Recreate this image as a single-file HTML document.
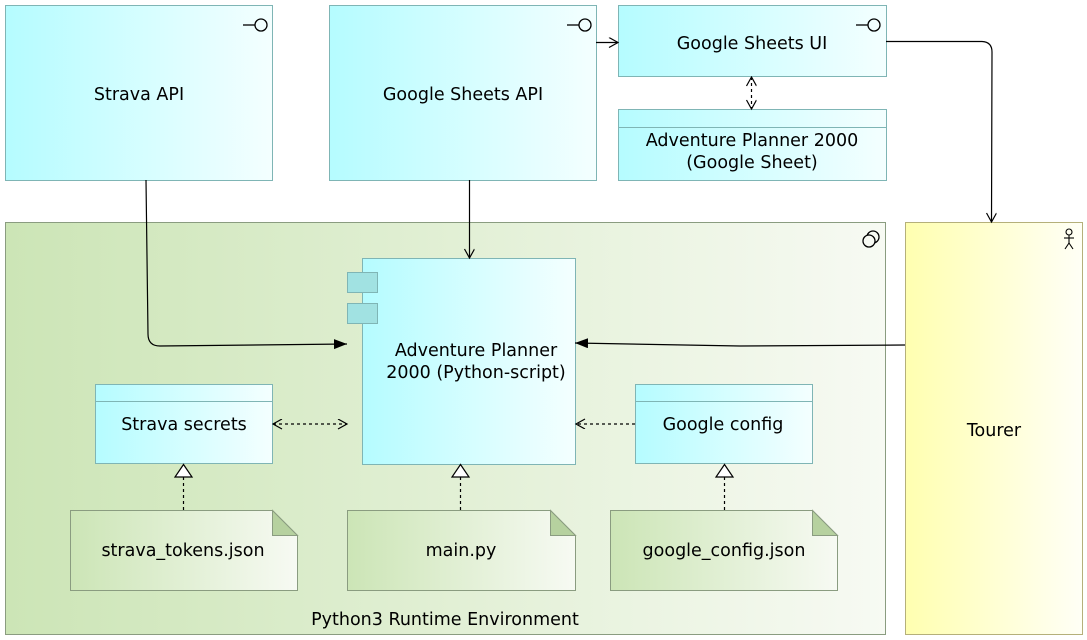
<!DOCTYPE html>
<html><head><meta charset="utf-8"><style>
html,body{margin:0;padding:0;background:#fff;}
svg{display:block;}
text{font-family:"DejaVu Sans","Liberation Sans",sans-serif;font-size:17.5px;fill:#000;}
</style></head><body>
<svg width="1087" height="640" viewBox="0 0 1087 640" xmlns="http://www.w3.org/2000/svg">
<defs>
<linearGradient id="cy" x1="0" x2="1" y1="0" y2="0"><stop offset="0" stop-color="#b5fcff"/><stop offset="1" stop-color="#f4ffff"/></linearGradient>
<linearGradient id="gr" x1="0" x2="1" y1="0" y2="0"><stop offset="0" stop-color="#cce5b6"/><stop offset="1" stop-color="#f7faf3"/></linearGradient>
<linearGradient id="ye" x1="0" x2="1" y1="0" y2="0"><stop offset="0" stop-color="#ffffb0"/><stop offset="1" stop-color="#fffff6"/></linearGradient>
<marker id="open" markerWidth="12" markerHeight="12" refX="10" refY="5" orient="auto" markerUnits="userSpaceOnUse"><path d="M1,0 L10,5 L1,10" fill="none" stroke="#000" stroke-width="1.2"/></marker>
<marker id="openS" markerWidth="12" markerHeight="12" refX="1" refY="5" orient="auto" markerUnits="userSpaceOnUse"><path d="M10,0 L1,5 L10,10" fill="none" stroke="#000" stroke-width="1.2"/></marker>
<marker id="fill" markerWidth="14" markerHeight="12" refX="13" refY="5" orient="auto" markerUnits="userSpaceOnUse"><path d="M0,0 L13,5 L0,10 Z" fill="#000"/></marker>
</defs>

<rect x="5.5" y="5.5" width="267" height="175" fill="url(#cy)" stroke="#7fb5b5"/>
<text x="139" y="100" text-anchor="middle">Strava API</text>
<rect x="329.5" y="5.5" width="267" height="175" fill="url(#cy)" stroke="#7fb5b5"/>
<text x="463" y="100" text-anchor="middle">Google Sheets API</text>
<rect x="618.5" y="5.5" width="268" height="71" fill="url(#cy)" stroke="#7fb5b5"/>
<text x="752" y="49" text-anchor="middle">Google Sheets UI</text>
<rect x="618.5" y="109.5" width="268" height="71" fill="url(#cy)" stroke="#7fb5b5"/>
<line x1="618.5" y1="127.5" x2="886.5" y2="127.5" stroke="#7fb5b5"/>
<text x="752" y="146" text-anchor="middle">Adventure Planner 2000</text>
<text x="752" y="168" text-anchor="middle">(Google Sheet)</text>
<g fill="none" stroke="#000" stroke-width="1.3">
<line x1="243" y1="25" x2="255" y2="25"/><circle cx="261" cy="25" r="6"/>
<line x1="567" y1="25" x2="579" y2="25"/><circle cx="585" cy="25" r="6"/>
<line x1="856" y1="25" x2="868" y2="25"/><circle cx="874" cy="25" r="6"/>
</g>

<rect x="5.5" y="222.5" width="880" height="412" fill="url(#gr)" stroke="#8a9c80"/>
<g fill="none" stroke="#000" stroke-width="1.3"><circle cx="873" cy="237" r="6"/><circle cx="869" cy="241" r="6" fill="#f7faf3"/></g>
<text x="445" y="625" text-anchor="middle">Python3 Runtime Environment</text>

<rect x="905.5" y="222.5" width="177" height="412" fill="url(#ye)" stroke="#b5b07a"/>
<text x="994" y="436" text-anchor="middle">Tourer</text>
<g fill="none" stroke="#000" stroke-width="1.1"><circle cx="1069" cy="232" r="3"/><line x1="1069" y1="235" x2="1069" y2="243"/><line x1="1064" y1="238" x2="1074" y2="238"/><line x1="1069" y1="243" x2="1065" y2="249"/><line x1="1069" y1="243" x2="1073" y2="249"/></g>

<rect x="362.5" y="258.5" width="213" height="206" fill="url(#cy)" stroke="#7fb5b5"/>
<rect x="347.5" y="272.5" width="30" height="20" fill="#a1e2e2" stroke="#7fb5b5"/>
<rect x="347.5" y="303.5" width="30" height="20" fill="#a1e2e2" stroke="#7fb5b5"/>
<text x="476" y="356" text-anchor="middle">Adventure Planner</text>
<text x="476" y="378" text-anchor="middle">2000 (Python-script)</text>

<rect x="95.5" y="384.5" width="177" height="79" fill="url(#cy)" stroke="#7fb5b5"/>
<line x1="95.5" y1="401.5" x2="272.5" y2="401.5" stroke="#7fb5b5"/>
<text x="184" y="430" text-anchor="middle">Strava secrets</text>
<rect x="635.5" y="384.5" width="177" height="79" fill="url(#cy)" stroke="#7fb5b5"/>
<line x1="635.5" y1="401.5" x2="812.5" y2="401.5" stroke="#7fb5b5"/>
<text x="723" y="430" text-anchor="middle">Google config</text>

<g stroke="#8a9c80">
<path d="M70.5,510.5 H272.5 L297.5,535.5 V590.5 H70.5 Z" fill="url(#gr)"/>
<path d="M272.5,510.5 V535.5 H297.5 Z" fill="#b6d19f"/>
<path d="M347.5,510.5 H550.5 L575.5,535.5 V590.5 H347.5 Z" fill="url(#gr)"/>
<path d="M550.5,510.5 V535.5 H575.5 Z" fill="#b6d19f"/>
<path d="M610.5,510.5 H812.5 L837.5,535.5 V590.5 H610.5 Z" fill="url(#gr)"/>
<path d="M812.5,510.5 V535.5 H837.5 Z" fill="#b6d19f"/>
</g>
<text x="183" y="556" text-anchor="middle">strava_tokens.json</text>
<text x="461" y="556" text-anchor="middle">main.py</text>
<text x="724" y="556" text-anchor="middle">google_config.json</text>

<g stroke="#000" stroke-width="1.2">
<line x1="183.5" y1="477" x2="183.5" y2="510" stroke-dasharray="3,3"/>
<path d="M183.5,464.5 L175,477 H192 Z" fill="#fff"/>
<line x1="460.5" y1="477" x2="460.5" y2="510" stroke-dasharray="3,3"/>
<path d="M460.5,464.5 L452,477 H469 Z" fill="#fff"/>
<line x1="724.5" y1="477" x2="724.5" y2="510" stroke-dasharray="3,3"/>
<path d="M724.5,464.5 L716,477 H733 Z" fill="#fff"/>
</g>

<g fill="none" stroke="#000" stroke-width="1.2">
<path d="M146,180 L148,334 Q148,346 160,346 L347,344" marker-end="url(#fill)"/>
<path d="M469.5,180 V258" marker-end="url(#open)"/>
<path d="M596,42.5 H618" marker-end="url(#open)"/>
<path d="M751.5,77 V109" stroke-dasharray="3,3" marker-start="url(#openS)" marker-end="url(#open)"/>
<path d="M886,41.5 H982 Q992,42 992,52 L991.5,222" marker-end="url(#open)"/>
<path d="M905,345 L740,346 L575,343" marker-end="url(#fill)"/>
<path d="M273,424 H347" stroke-dasharray="3,3" marker-start="url(#openS)" marker-end="url(#open)"/>
<path d="M635,424 H576" stroke-dasharray="3,3" marker-end="url(#open)"/>
</g>
</svg>
</body></html>
